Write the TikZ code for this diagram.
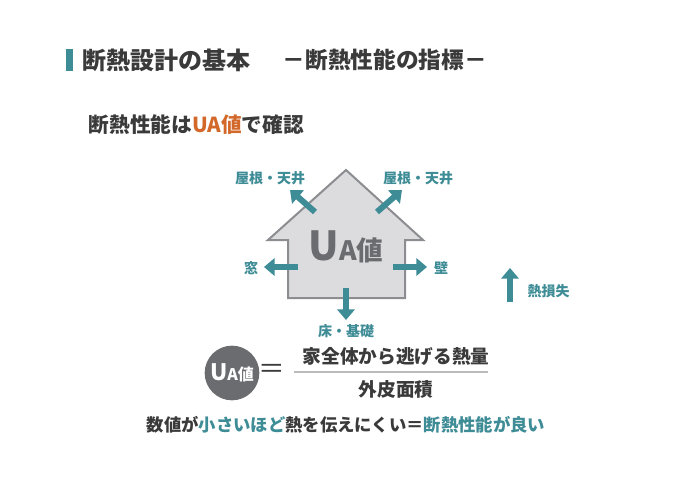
\documentclass[tikz,border=0pt]{standalone}
\usepackage{fontspec}
\setmainfont{Noto Sans CJK JP}
\usetikzlibrary{arrows.meta}
\definecolor{teal1}{HTML}{3E8C96}
\definecolor{txt}{HTML}{3A3A3A}
\definecolor{orng}{HTML}{D2692A}
\definecolor{hfill}{HTML}{DCDCDE}
\definecolor{hline}{HTML}{8C8D91}
\definecolor{circ}{HTML}{6B6C70}
\tikzset{
  heat/.style={teal1, line width=4.5pt, -{Triangle[length=8pt,width=13pt]}},
  lbl/.style={text=teal1, font=\bfseries\fontsize{10.5}{12}\selectfont},
}
\begin{document}
\begin{tikzpicture}[x=0.75pt,y=-0.75pt]
\useasboundingbox[fill=white] (0,0) rectangle (686,485);

% title
\fill[teal1] (66,49) rectangle (73,71);
\node[anchor=west, text=txt, font=\bfseries\fontsize{18}{20}\selectfont] (title) at (78,60) {断熱設計の基本};
\node[anchor=west, text=txt, font=\bfseries\fontsize{17}{20}\selectfont] (sub) at (278,60) {－断熱性能の指標－};
\node[anchor=west, text=txt, font=\bfseries\fontsize{15.5}{18}\selectfont] (head) at (84,125) {断熱性能は\textcolor{orng}{UA値}で確認};

% house
\draw[fill=hfill, draw=hline, line width=1.5pt] (346,170) -- (268,240) -- (288,240) -- (288,298)
  -- (405,298) -- (405,240) -- (423,240) -- cycle;
\node[text=circ, font=\bfseries\fontsize{30}{32}\selectfont] (ua) at (346,247) {U\fontsize{20}{22}\selectfont A値};

% heat loss arrows
\coordinate (ul0) at (315,212); \coordinate (ul1) at (290,190);
\coordinate (ur0) at (377,212); \coordinate (ur1) at (402,190);
\coordinate (l0) at (298,267);  \coordinate (l1) at (264,267);
\coordinate (r0) at (393,267);  \coordinate (r1) at (427,267);
\coordinate (d0) at (346,288);  \coordinate (d1) at (346,320);
\draw[heat] (ul0) -- (ul1);
\draw[heat] (ur0) -- (ur1);
\draw[heat] (l0) -- (l1);
\draw[heat] (r0) -- (r1);
\draw[heat] (d0) -- (d1);
\node[lbl] (roofl) at (270,178) {屋根・天井};
\node[lbl] (roofr) at (418,178) {屋根・天井};
\node[lbl] (win) at (251,268) {窓};
\node[lbl] (wall) at (441,268) {壁};
\node[lbl] (floor) at (346,331) {床・基礎};

% legend
\coordinate (lg0) at (510,302); \coordinate (lg1) at (510,268);
\draw[heat] (lg0) -- (lg1);
\node[lbl, anchor=west] (loss) at (523,291) {熱損失};

% formula
\node[circle, fill=circ, minimum size=41pt, inner sep=0pt, text=white,
  font=\bfseries\fontsize{17}{18}\selectfont] (badge) at (232,373) {U\fontsize{12}{13}\selectfont A値};
\node[text=txt, font=\fontsize{20}{20}\selectfont] (eq) at (272,371) {＝};
\node[text=txt, font=\bfseries\fontsize{14}{16}\selectfont] (num) at (396,356) {家全体から逃げる熱量};
\node[text=txt, font=\bfseries\fontsize{14}{16}\selectfont] (den) at (396,389) {外皮面積};
\coordinate (fl) at (294,372); \coordinate (fr) at (488,372);
\draw[hline!60, line width=0.8pt] (fl) -- (fr);
\node[text=txt, font=\bfseries\fontsize{13}{15}\selectfont] (note) at (346,425)
  {数値が\textcolor{teal1}{小さいほど}熱を伝えにくい＝\textcolor{teal1}{断熱性能が良い}};
\end{tikzpicture}
\end{document}
